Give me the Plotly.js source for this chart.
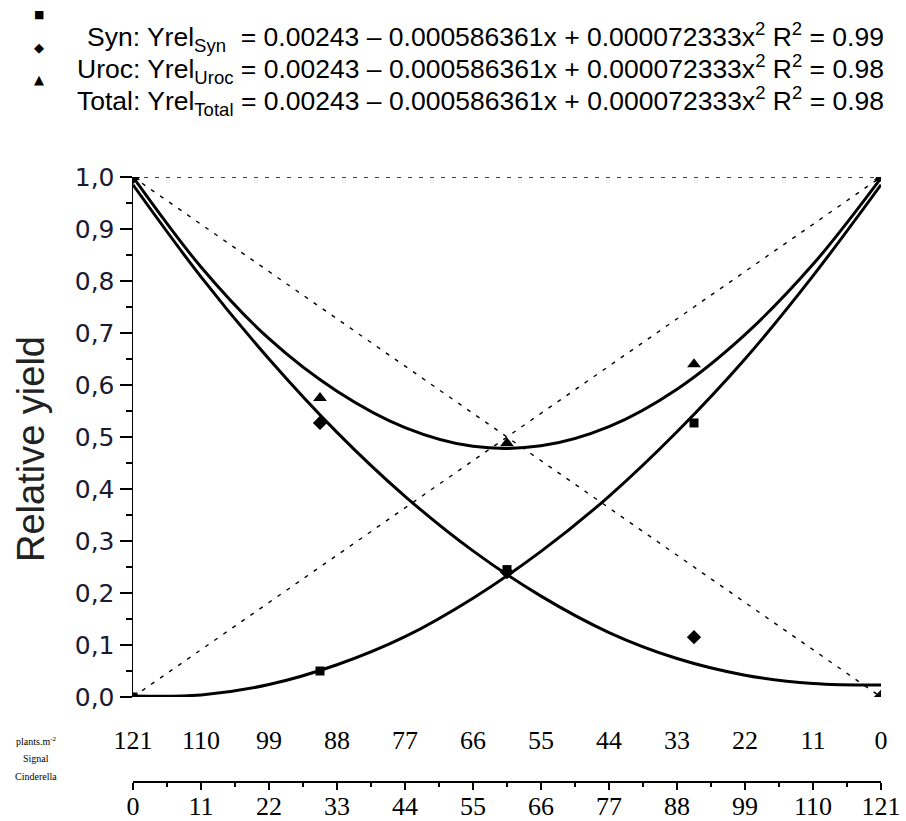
<!DOCTYPE html>
<html>
<head>
<meta charset="utf-8">
<script src="https://cdn.plot.ly/plotly-3.0.1.min.js"></script>
<style>html,body{margin:0;padding:0;background:#fff;}#chart{width:906px;height:821px;}</style>
</head>
<body>
<div id="chart"></div>
<script>
// ---- data ----
const densitySignal = [0, 11, 22, 33, 44, 55, 66, 77, 88, 99, 110, 121];       // plants m-2 Signal (lower axis)
const densityCinderellaLabels = ['121','110','99','88','77','66','55','44','33','22','11','0']; // upper row

// fitted curves read at each 11 plants step
const fitSyn   = [0.002, 0.004, 0.024, 0.062, 0.116, 0.190, 0.280, 0.386, 0.510, 0.650, 0.810, 0.985];
const fitUroc  = [0.985, 0.808, 0.650, 0.509, 0.386, 0.281, 0.194, 0.124, 0.074, 0.042, 0.026, 0.023];
const fitTotal = [1.000, 0.827, 0.689, 0.588, 0.518, 0.482, 0.483, 0.520, 0.592, 0.697, 0.832, 0.998];

// observed points
const obsX     = [0, 30.25, 60.5, 90.75, 121];
const obsSyn   = [0.0, 0.050, 0.245, 0.527, 1.0];
const obsUroc  = [1.0, 0.527, 0.240, 0.115, 0.0];
const obsTotal = [1.0, 0.575, 0.488, 0.640, 1.0];

// reference (expected) lines
const refX = [0, 121];
const refUp = [0, 1];
const refDown = [1, 0];
const refTop = [1, 1];

const legendTexts = [
  'Syn: Yrel<sub>Syn</sub>  = 0.00243 – 0.000586361x + 0.000072333x<sup>2</sup> R<sup>2</sup> = 0.99',
  'Uroc: Yrel<sub>Uroc</sub> = 0.00243 – 0.000586361x + 0.000072333x<sup>2</sup> R<sup>2</sup> = 0.98',
  'Total: Yrel<sub>Total</sub> = 0.00243 – 0.000586361x + 0.000072333x<sup>2</sup> R<sup>2</sup> = 0.98'
];
const legendSymbols = ['■', '◆', '▲'];
const axisNote = ['plants.m<sup>-2</sup>', 'Signal', 'Cinderella'];

// ---- geometry helpers ----
const W = 906, H = 821, ML = 133, MR = 25, MT = 0, MB = 40;
const plotTop = 177, plotBottom = 697;
const pw = W - ML - MR, ph = H - MT - MB;
const px2x = p => (p - ML) / pw;
const px2y = p => (H - MB - p) / ph;

const dashStyle = {color: '#000', width: 1.4, dash: '4px,7px'};
const curveStyle = {color: '#000', width: 3, shape: 'spline', smoothing: 1};

const traces = [
  {x: refX, y: refTop, mode: 'lines', line: dashStyle, cliponaxis: false},
  {x: refX, y: refUp, mode: 'lines', line: dashStyle, cliponaxis: false},
  {x: refX, y: refDown, mode: 'lines', line: dashStyle, cliponaxis: false},
  {x: densitySignal, y: fitSyn, mode: 'lines', line: curveStyle, cliponaxis: false},
  {x: densitySignal, y: fitUroc, mode: 'lines', line: curveStyle, cliponaxis: false},
  {x: densitySignal, y: fitTotal, mode: 'lines', line: curveStyle, cliponaxis: false},
  {x: obsX, y: obsSyn, mode: 'markers', marker: {symbol: 'square', size: 9, color: '#000'}, cliponaxis: true},
  {x: obsX, y: obsUroc, mode: 'markers', marker: {symbol: 'diamond', size: 11, color: '#000'}, cliponaxis: true},
  {x: obsX, y: obsTotal, mode: 'markers', marker: {symbol: 'triangle-up', size: 12, color: '#000'}, cliponaxis: true},
  {x: refX, y: [null, null], xaxis: 'x2', mode: 'lines', hoverinfo: 'skip'}
];
traces.forEach(t => { t.showlegend = false; });

const annotations = [];
legendTexts.forEach((t, i) => {
  annotations.push({
    text: t, xref: 'paper', yref: 'paper', x: px2x(886), y: px2y(37 + 32 * i),
    xanchor: 'right', yanchor: 'middle', showarrow: false,
    font: {family: 'Liberation Sans, Arial, sans-serif', size: 26.5, color: '#000'}
  });
  annotations.push({
    text: legendSymbols[i], xref: 'paper', yref: 'paper', x: px2x(39), y: px2y(15 + 32.5 * i),
    xanchor: 'center', yanchor: 'middle', showarrow: false,
    font: {family: 'DejaVu Sans, sans-serif', size: i === 0 ? 11 : 13, color: '#000'}
  });
});
annotations.push({
  text: 'Relative yield', xref: 'paper', yref: 'paper', x: px2x(31), y: px2y(449),
  xanchor: 'center', yanchor: 'middle', textangle: -90, showarrow: false,
  font: {family: 'Liberation Sans, Arial, sans-serif', size: 38, color: '#222'}
});
axisNote.forEach((t, i) => {
  annotations.push({
    text: t, xref: 'paper', yref: 'paper', x: px2x(36), y: px2y(741 + 17.5 * i),
    xanchor: 'center', yanchor: 'middle', showarrow: false,
    font: {family: 'Liberation Serif, serif', size: 10, color: '#000'}
  });
});

const layout = {
  width: W, height: H,
  margin: {l: ML, r: MR, t: MT, b: MB, pad: 0},
  paper_bgcolor: '#fff', plot_bgcolor: '#fff',
  separators: ',.',
  showlegend: false,
  xaxis: {
    range: [0, 121], anchor: 'y', showline: false, showgrid: false, zeroline: false,
    tickmode: 'array', tickvals: densitySignal, ticktext: densityCinderellaLabels,
    ticks: 'outside', ticklen: 20, tickcolor: 'rgba(0,0,0,0)',
    tickfont: {family: 'Liberation Serif, serif', size: 26, color: '#000'}
  },
  xaxis2: {
    range: [0, 121], overlaying: 'x', anchor: 'free', position: 0, side: 'bottom',
    showline: true, linecolor: '#000', linewidth: 1.5, showgrid: false, zeroline: false,
    tickmode: 'linear', tick0: 0, dtick: 11,
    ticks: 'outside', ticklen: 7, tickwidth: 1.5, tickcolor: '#000',
    ticklabelstandoff: -6,
    minor: {ticks: 'outside', ticklen: 4, dtick: 5.5, tickwidth: 1.2, tickcolor: '#000'},
    tickfont: {family: 'Liberation Serif, serif', size: 26, color: '#000'}
  },
  yaxis: {
    range: [0, 1], domain: [px2y(plotBottom), px2y(plotTop)],
    showline: true, linecolor: '#000', linewidth: 1.5, showgrid: false, zeroline: false,
    tickmode: 'linear', tick0: 0, dtick: 0.1, tickformat: '.1f',
    ticks: 'outside', ticklen: 12, tickwidth: 1.5, tickcolor: '#000',
    minor: {ticks: 'outside', ticklen: 6, dtick: 0.05, tickwidth: 1.2, tickcolor: '#000'},
    tickfont: {family: 'DejaVu Sans, sans-serif', size: 25, color: '#1a1a33'}
  },
  annotations: annotations
};

Plotly.newPlot('chart', traces, layout, {displayModeBar: false, staticPlot: true});
</script>
</body>
</html>
